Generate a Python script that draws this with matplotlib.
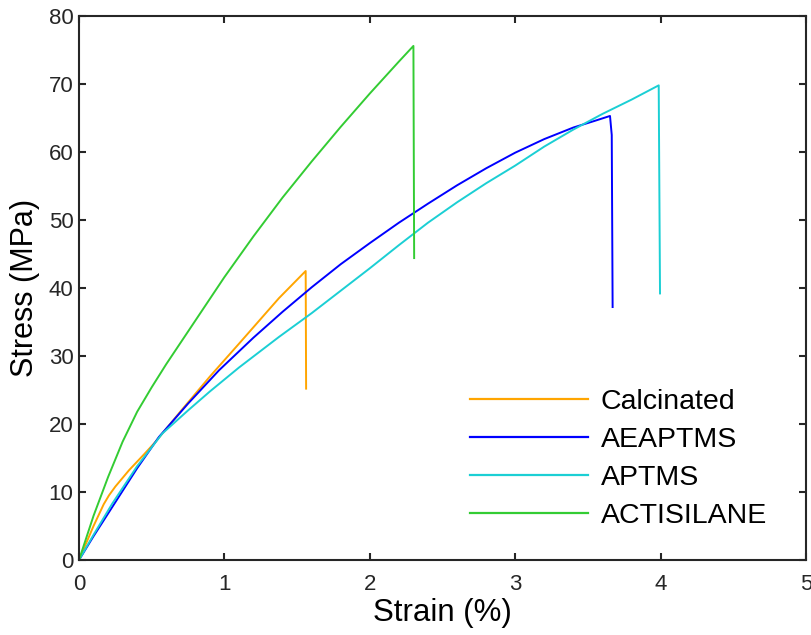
import matplotlib
matplotlib.use("Agg")
import matplotlib.pyplot as plt

plt.rcParams['font.family'] = ['Liberation Sans', 'DejaVu Sans']

# Tensile stress-strain curves
calc_strain = [0, 0.1, 0.17, 0.206, 0.25, 0.344, 0.45, 0.527, 0.7, 0.901, 1.1,
               1.375, 1.559, 1.562]
calc_stress = [0, 5.0, 8.2, 9.5, 10.8, 13.2, 15.6, 17.4, 21.9, 27.0, 31.8,
               38.5, 42.5, 25.2]

aeap_strain = [0, 0.1, 0.25, 0.4, 0.55, 0.75, 0.963, 1.2, 1.4, 1.6, 1.8, 2.0,
               2.2, 2.4, 2.6, 2.8, 3.0, 3.2, 3.4, 3.55, 3.652, 3.664, 3.670]
aeap_stress = [0, 3.5, 8.5, 13.5, 18.1, 23.0, 27.9, 32.7, 36.5, 40.1, 43.5, 46.6,
               49.6, 52.4, 55.1, 57.6, 59.9, 61.9, 63.6, 64.6, 65.3, 62.5, 37.2]

aptms_strain = [0, 0.1, 0.229, 0.4, 0.573, 0.75, 0.901, 1.1, 1.375, 1.6, 1.8,
                2.0, 2.2, 2.4, 2.6, 2.8, 3.0, 3.2, 3.4, 3.6, 3.8, 3.987, 3.996]
aptms_stress = [0, 3.7, 8.3, 13.8, 18.6, 22.0, 24.8, 28.3, 32.8, 36.3, 39.6,
                42.9, 46.3, 49.6, 52.6, 55.4, 58.0, 60.8, 63.3, 65.6, 67.7, 69.8, 39.2]

acti_strain = [0, 0.1, 0.2, 0.3, 0.4, 0.5, 0.6, 0.7, 0.85, 1.0, 1.2, 1.4, 1.6,
               1.8, 2.0, 2.2, 2.30, 2.305]
acti_stress = [0, 6.5, 12.2, 17.4, 21.8, 25.4, 28.8, 32.0, 36.8, 41.6, 47.6, 53.3,
               58.6, 63.7, 68.6, 73.3, 75.6, 44.4]

series_names = ['Calcinated', 'AEAPTMS', 'APTMS', 'ACTISILANE']
series_colors = ['#FFA500', '#0000FF', '#1BCFD4', '#33CC33']

x_ticks = [0, 1, 2, 3, 4, 5]
y_ticks = [0, 10, 20, 30, 40, 50, 60, 70, 80]

fig = plt.figure(figsize=(8.11, 6.35), dpi=100)
ax = fig.add_axes([79 / 811, 75 / 635, 727 / 811, 544 / 635])

curves = [(calc_strain, calc_stress), (aeap_strain, aeap_stress),
          (aptms_strain, aptms_stress), (acti_strain, acti_stress)]
for (xs, ys), name, col in zip(curves, series_names, series_colors):
    ax.plot(xs, ys, color=col, lw=1.4, label=name, solid_joinstyle='round')

ax.set_xlim(0, 5)
ax.set_ylim(0, 80)
ax.set_xticks(x_ticks)
ax.set_yticks(y_ticks)

dark = '#262626'
for sp in ax.spines.values():
    sp.set_color(dark)
    sp.set_linewidth(1.5)
ax.tick_params(direction='in', length=5, width=1.5, colors=dark,
               labelsize=16, top=True, right=True)
ax.tick_params(axis='x', pad=10)
ax.tick_params(axis='y', pad=4)

ax.set_xlabel('Strain (%)', fontsize=22.5, labelpad=2)
ax.set_ylabel('Stress (MPa)', fontsize=22, labelpad=6)

leg = ax.legend(loc='upper left', bbox_to_anchor=((470 - 79) / 727, (560 - 389) / 544),
                frameon=False, fontsize=20.5, handlelength=4.15, handletextpad=0.45,
                labelspacing=0.42, borderpad=0, borderaxespad=0)
for line in leg.get_lines():
    line.set_linewidth(1.6)

fig.savefig('out.png', dpi=100)
